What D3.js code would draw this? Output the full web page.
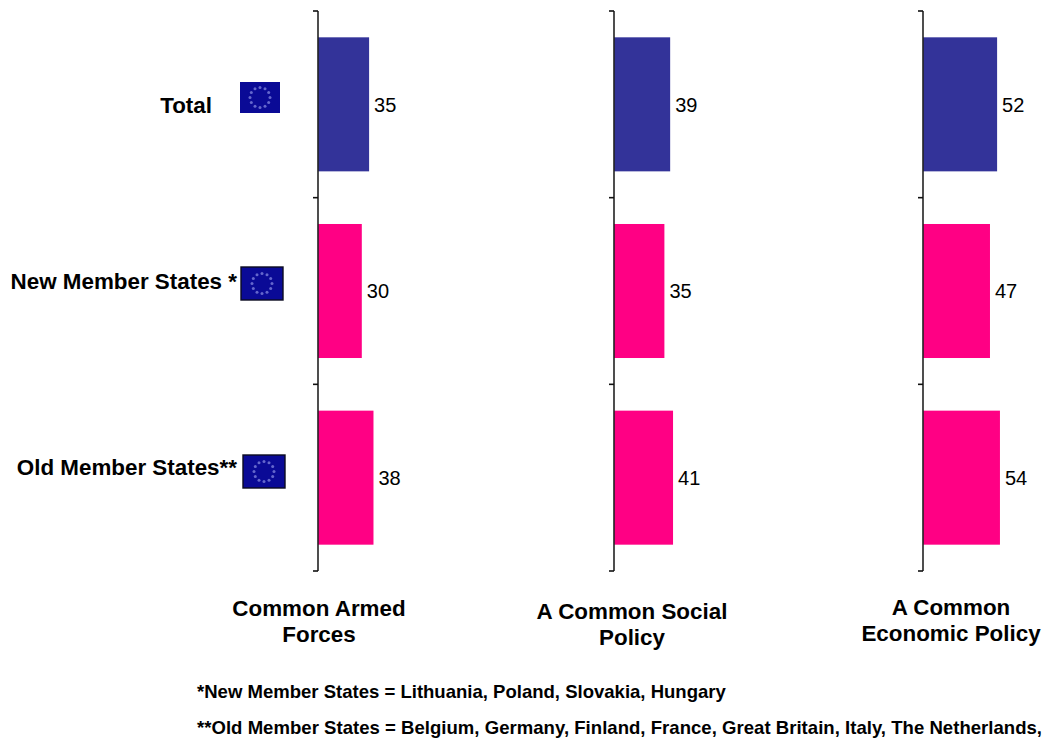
<!DOCTYPE html>
<html>
<head>
<meta charset="utf-8">
<script src="https://cdn.jsdelivr.net/npm/d3@7/dist/d3.min.js"></script>
<style>
  html, body { margin: 0; padding: 0; background: #fff; }
  svg { display: block; }
  text { font-family: "Liberation Sans", Arial, sans-serif; fill: #000; }
  .bold { font-weight: 700; }
</style>
</head>
<body>
<svg id="chart" width="1042" height="738"></svg>
<script>
// Support for EU policies by member-state group
const groups = ["Total", "New Member States *", "Old Member States**"];
const groupColors = ["#333399", "#ff0084", "#ff0084"];
const armedForces = [35, 30, 38];
const socialPolicy = [39, 35, 41];
const economicPolicy = [52, 47, 54];
const panelTitles = [
  ["Common Armed", "Forces"],
  ["A Common Social", "Policy"],
  ["A Common", "Economic Policy"]
];
const footnotes = [
  "*New Member States = Lithuania, Poland, Slovakia, Hungary",
  "**Old Member States = Belgium, Germany, Finland, France, Great Britain, Italy, The Netherlands,"
];

// Layout settings for the three panels and the row furniture
const panelSeries = [armedForces, socialPolicy, economicPolicy];
const panelOrigins = [318, 614, 923];
const panelScales = [1.46, 1.44, 1.425];
const titleCenters = [319, 632, 951];
const titleTops = [616, 619, 615];
const noteSpacing = [0, 0.03];
const labelRows = [
  { x: 212, y: 113, flag: [240, 82, 40, 31, false] },
  { x: 237, y: 289, flag: [241, 267, 42, 33, true] },
  { x: 237, y: 475, flag: [243, 455, 42, 33, true] }
];

const svg = d3.select("#chart");

const y = d3.scaleBand()
  .domain(groups)
  .range([11, 571])
  .paddingInner(0.282)
  .paddingOuter(0.141);

panelSeries.forEach((values, p) => {
  const x0 = panelOrigins[p];
  const x = d3.scaleLinear().domain([0, 100]).range([x0, x0 + 100 * panelScales[p]]);
  const g = svg.append("g");

  g.selectAll("rect")
    .data(values)
    .join("rect")
    .attr("x", x(0))
    .attr("y", (d, i) => y(groups[i]))
    .attr("width", d => x(d) - x(0))
    .attr("height", y.bandwidth())
    .attr("fill", (d, i) => groupColors[i]);

  // Category axis: plain spine with ticks at the band edges
  const step = y.step();
  const edges = d3.range(groups.length + 1).map(i => 11 + i * step);
  g.append("line")
    .attr("x1", x0).attr("x2", x0)
    .attr("y1", 11).attr("y2", 571)
    .attr("stroke", "#222").attr("stroke-width", 1.6);
  g.selectAll("line.tick")
    .data(edges)
    .join("line")
    .attr("class", "tick")
    .attr("x1", x0 - 5).attr("x2", x0)
    .attr("y1", d => d).attr("y2", d => d)
    .attr("stroke", "#111").attr("stroke-width", 1.6);

  g.selectAll("text.value")
    .data(values)
    .join("text")
    .attr("class", "value")
    .attr("x", d => x(d) + 5)
    .attr("y", (d, i) => y(groups[i]) + y.bandwidth() / 2 + 7.3)
    .attr("font-size", 20)
    .text(d => d);

  panelTitles[p].forEach((line, i) => {
    svg.append("text")
      .attr("class", "bold")
      .attr("x", titleCenters[p])
      .attr("y", titleTops[p] + i * 26)
      .attr("text-anchor", "middle")
      .attr("font-size", 22.4)
      .text(line);
  });
});

// Row labels with a small EU flag beside each
const flag = svg.append("g");
groups.forEach((name, i) => {
  const row = labelRows[i];
  svg.append("text")
    .attr("class", "bold")
    .attr("x", row.x)
    .attr("y", row.y)
    .attr("text-anchor", "end")
    .attr("font-size", 22.4)
    .text(name);

  const [fx, fy, fw, fh, framed] = row.flag;
  flag.append("rect")
    .attr("x", fx).attr("y", fy)
    .attr("width", fw).attr("height", fh)
    .attr("fill", "#0a0a96")
    .attr("stroke", framed ? "#0a0a20" : "none")
    .attr("stroke-width", framed ? 1.4 : 0);
  flag.selectAll(null)
    .data(d3.range(12))
    .join("circle")
    .attr("cx", k => fx + fw / 2 + 10 * Math.sin(k * Math.PI / 6))
    .attr("cy", k => fy + fh / 2 - 10 * Math.cos(k * Math.PI / 6))
    .attr("r", 1.5)
    .attr("fill", "#6467cc");
});

svg.selectAll("text.note")
  .data(footnotes)
  .join("text")
  .attr("class", "note bold")
  .attr("x", 197)
  .attr("y", (d, i) => 698 + i * 36)
  .attr("font-size", 18.55)
  .attr("letter-spacing", (d, i) => noteSpacing[i])
  .text(d => d);
</script>
</body>
</html>
